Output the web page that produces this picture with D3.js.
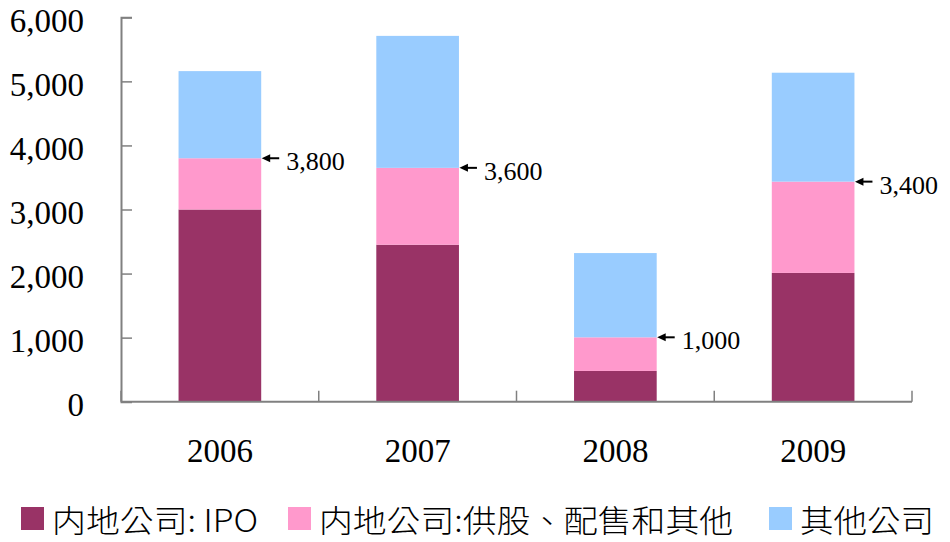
<!DOCTYPE html>
<html><head><meta charset="utf-8">
<script src="https://cdn.jsdelivr.net/npm/d3@7"></script>
<style>body{margin:0;background:#fff}svg{display:block}</style>
</head><body>
<svg id="c" width="950" height="542"></svg>
<script>
const years = ["2006", "2007", "2008", "2009"];
const ipo = [3000, 2450, 480, 2010];
const placements = [800, 1200, 525, 1425];
const others = [1360, 2060, 1315, 1700];
const annotations = ["3,800", "3,600", "1,000", "3,400"];
const seriesNames = ["内地公司: IPO", "内地公司:供股、配售和其他", "其他公司"];
const colors = ["#993366", "#FF99CC", "#99CCFF"];
const yTicks = [0, 1000, 2000, 3000, 4000, 5000, 6000];

const svg = d3.select("#c");
const serif = "'Liberation Serif','Times New Roman',serif";
const cjk = "'Noto Sans CJK TC','Noto Sans CJK SC',sans-serif";

const x = d3.scaleBand().domain(years).range([121, 912]).padding(0);
const y = d3.scaleLinear().domain([0, 6000]).range([401.7, 17.3]);

const rows = years.map((yr, i) => ({year: yr, ipo: ipo[i], placements: placements[i], others: others[i]}));
const keys = ["ipo", "placements", "others"];
const stacked = d3.stack().keys(keys)(rows);

const bw = x.bandwidth();
const barW = bw * 0.418;

svg.append("g").selectAll("g").data(stacked).join("g")
  .attr("fill", (d, i) => colors[i])
  .selectAll("rect").data(d => d).join("rect")
  .attr("x", d => x(d.data.year) + (bw - barW) / 2)
  .attr("width", barW)
  .attr("y", d => y(d[1]))
  .attr("height", d => y(d[0]) - y(d[1]));

// Y axis
const yAxis = svg.append("g").attr("transform", "translate(121,0)")
  .call(d3.axisLeft(y).tickValues(yTicks).tickSize(-11).tickPadding(37).tickFormat(d3.format(",")));
yAxis.select(".domain").attr("stroke", "#808080").attr("stroke-width", 2);
yAxis.selectAll(".tick line").attr("stroke", "#808080").attr("stroke-width", 1.5);
yAxis.selectAll(".tick text").attr("font-family", serif).attr("font-size", 33).attr("fill", "#000")
  .attr("dy", "0.42em");

// X axis
const xg = svg.append("g");
xg.append("line").attr("x1", 121).attr("x2", x.range()[1]).attr("y1", y(0)).attr("y2", y(0))
  .attr("stroke", "#808080").attr("stroke-width", 2);
const bounds = years.map(d => x(d)).concat([x.range()[1]]);
xg.selectAll("line.tk").data(bounds).join("line").attr("class", "tk")
  .attr("x1", d => d).attr("x2", d => d).attr("y1", y(0)).attr("y2", y(0) - 11)
  .attr("stroke", "#808080").attr("stroke-width", 1.5);
xg.selectAll("text").data(years).join("text")
  .attr("x", d => x(d) + bw / 2).attr("y", 462)
  .attr("text-anchor", "middle").attr("font-family", serif).attr("font-size", 33).text(d => d);

// Annotations
const ann = svg.append("g");
rows.forEach((r, i) => {
  const yy = y(r.ipo + r.placements);
  const x0 = x(r.year) + (bw + barW) / 2;
  ann.append("line").attr("x1", x0 + 6).attr("x2", x0 + 18).attr("y1", yy).attr("y2", yy)
    .attr("stroke", "#000").attr("stroke-width", 2);
  ann.append("path").attr("d", `M${x0 + 0.5},${yy} L${x0 + 9},${yy - 4} L${x0 + 9},${yy + 4} Z`).attr("fill", "#000");
  ann.append("text").attr("x", x0 + 25).attr("y", yy + 12)
    .attr("font-family", serif).attr("font-size", 26).text(annotations[i]);
});

// Legend
const legX = [21, 288, 769];
const legW = [206, 414, 134];
const lg = svg.append("g");
seriesNames.forEach((n, i) => {
  lg.append("rect").attr("x", legX[i]).attr("y", 507).attr("width", 23).attr("height", 23).attr("fill", colors[i]);
  lg.append("text").attr("x", legX[i] + 31).attr("y", 532)
    .attr("font-family", cjk).attr("font-weight", 300).attr("font-size", 31)
    .attr("textLength", legW[i]).attr("lengthAdjust", "spacingAndGlyphs")
    .text(n);
});
</script>
</body></html>
